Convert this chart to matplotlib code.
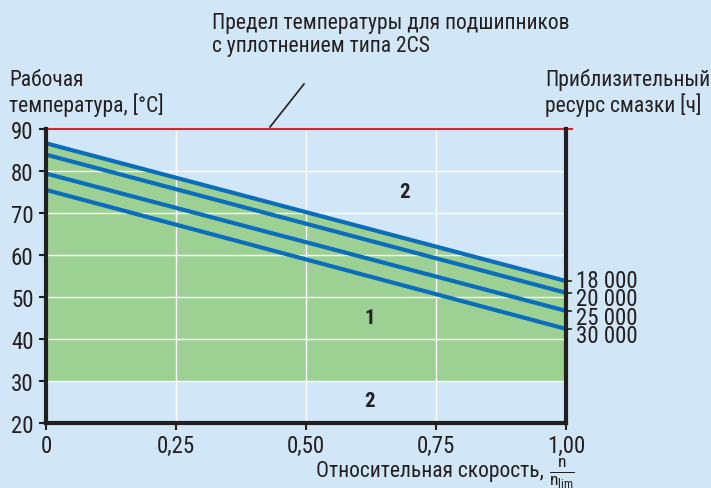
import matplotlib
matplotlib.use("Agg")
import matplotlib.pyplot as plt
from matplotlib import font_manager as fm

names = {f.name for f in fm.fontManager.ttflist}
main_font = 'Roboto'
for cand in ['Roboto Condensed', 'Liberation Sans Narrow', 'Open Sans Condensed', 'Roboto']:
    if cand in names:
        main_font = cand
        break
fam = [main_font, 'DejaVu Sans']
plt.rcParams['font.family'] = fam
plt.rcParams['mathtext.fontset'] = 'custom'
plt.rcParams['mathtext.rm'] = main_font
plt.rcParams['mathtext.it'] = main_font

# Data
speed = [0.0, 1.0]
life_labels = ['18 000', '20 000', '25 000', '30 000']
temp_start = [86.6, 83.9, 79.4, 75.5]
temp_end = [53.8, 51.0, 46.7, 42.4]
temp_limit = 90
temp_low = 30
x_ticks = [0, 0.25, 0.5, 0.75, 1.0]
x_ticklabels = ['0', '0,25', '0,50', '0,75', '1,00']
y_ticks = [20, 30, 40, 50, 60, 70, 80, 90]

# label placement offsets (layout only, in degrees)
label_shift = [0.2, -1.4, -1.5, -1.5]

BG = '#d1e6f6'
GREEN = '#9dd194'
BLUE = '#0a6ebd'
RED = '#d9262e'
TXT = '#231f20'

TICK_FS = 16.5
TEXT_FS = 15.5

fig = plt.figure(figsize=(7.11, 4.89), dpi=100, facecolor=BG)
ax = fig.add_axes([46/711, 1-424/489, 520/711, 294/489])
ax.set_facecolor(BG)
ax.set_xlim(0, 1)
ax.set_ylim(20, 90)

# green zone
ax.fill_between(speed, [temp_low, temp_low], [temp_start[0], temp_end[0]], color=GREEN, lw=0, zorder=1)

# grid
for xv in x_ticks[1:-1]:
    ax.axvline(xv, color='white', lw=1, zorder=2)
for yv in y_ticks[1:-1]:
    ax.axhline(yv, color='white', lw=1, zorder=2)

for s, e in zip(temp_start, temp_end):
    ax.plot(speed, [s, e], color=BLUE, lw=3, solid_capstyle='butt', zorder=4)

ax.plot([0, 1.012], [temp_limit, temp_limit], color=RED, lw=1.5, zorder=5, clip_on=False)

ax.spines['top'].set_visible(False)
for sp in ['left', 'bottom', 'right']:
    ax.spines[sp].set_linewidth(3)
    ax.spines[sp].set_color(TXT)
    ax.spines[sp].set_zorder(6)

ax.set_xticks(x_ticks)
ax.set_xticklabels(x_ticklabels)
ax.set_yticks(y_ticks)
ax.tick_params(axis='both', direction='out', length=5, width=1.5, color=TXT,
               labelsize=TICK_FS, labelcolor=TXT)
ax.tick_params(axis='y', pad=4)
ax.tick_params(axis='x', pad=3)

# right axis: ticks at line ends, labels slightly spread
ax2 = ax.twinx()
ax2.set_ylim(20, 90)
ax2.set_yticks(temp_end)
ax2.set_yticklabels([])
ax2.tick_params(axis='y', direction='out', length=4, width=1.2, color=TXT)
for sp in ax2.spines.values():
    sp.set_visible(False)
for v, lab, sh in zip(temp_end, life_labels, label_shift):
    ax2.annotate(lab, xy=(1, v + sh), xycoords=('axes fraction', 'data'),
                 xytext=(7.5, 0), textcoords='offset points', fontsize=TICK_FS,
                 color=TXT, ha='left', va='center', annotation_clip=False)

# zone labels
ax.text(0.623, 45, '1', fontsize=15, fontweight='bold', color=TXT, ha='center', va='center', zorder=7)
ax.text(0.69, 75, '2', fontsize=15, fontweight='bold', color=TXT, ha='center', va='center', zorder=7)
ax.text(0.623, 25.3, '2', fontsize=15, fontweight='bold', color=TXT, ha='center', va='center', zorder=7)

# texts
fig.text(9/711, 1-112/489, 'Рабочая\nтемпература, [°C]', fontsize=TEXT_FS, color=TXT,
         ha='left', va='baseline', linespacing=1.12)
fig.text(545/711, 1-112/489, 'Приблизительный\nресурс смазки [ч]', fontsize=TEXT_FS, color=TXT,
         ha='left', va='baseline', linespacing=1.12)
fig.text(212/711, 1-52/489, 'Предел температуры для подшипников\nс уплотнением типа 2CS', fontsize=TEXT_FS,
         color=TXT, ha='left', va='baseline', linespacing=1.12)
fig.add_artist(plt.Line2D([270/711, 304/711], [1-128/489, 1-85/489], color=TXT, lw=1.2))
fig.text(544/711, 1-477/489, 'Относительная скорость,', fontsize=TEXT_FS,
         color=TXT, ha='right', va='baseline')
fig.text(549/711, 1-480/489, r'$\frac{n}{n_{\mathrm{lim}}}$', fontsize=18,
         color=TXT, ha='left', va='baseline')

fig.savefig('out.png', dpi=100, facecolor=BG)
